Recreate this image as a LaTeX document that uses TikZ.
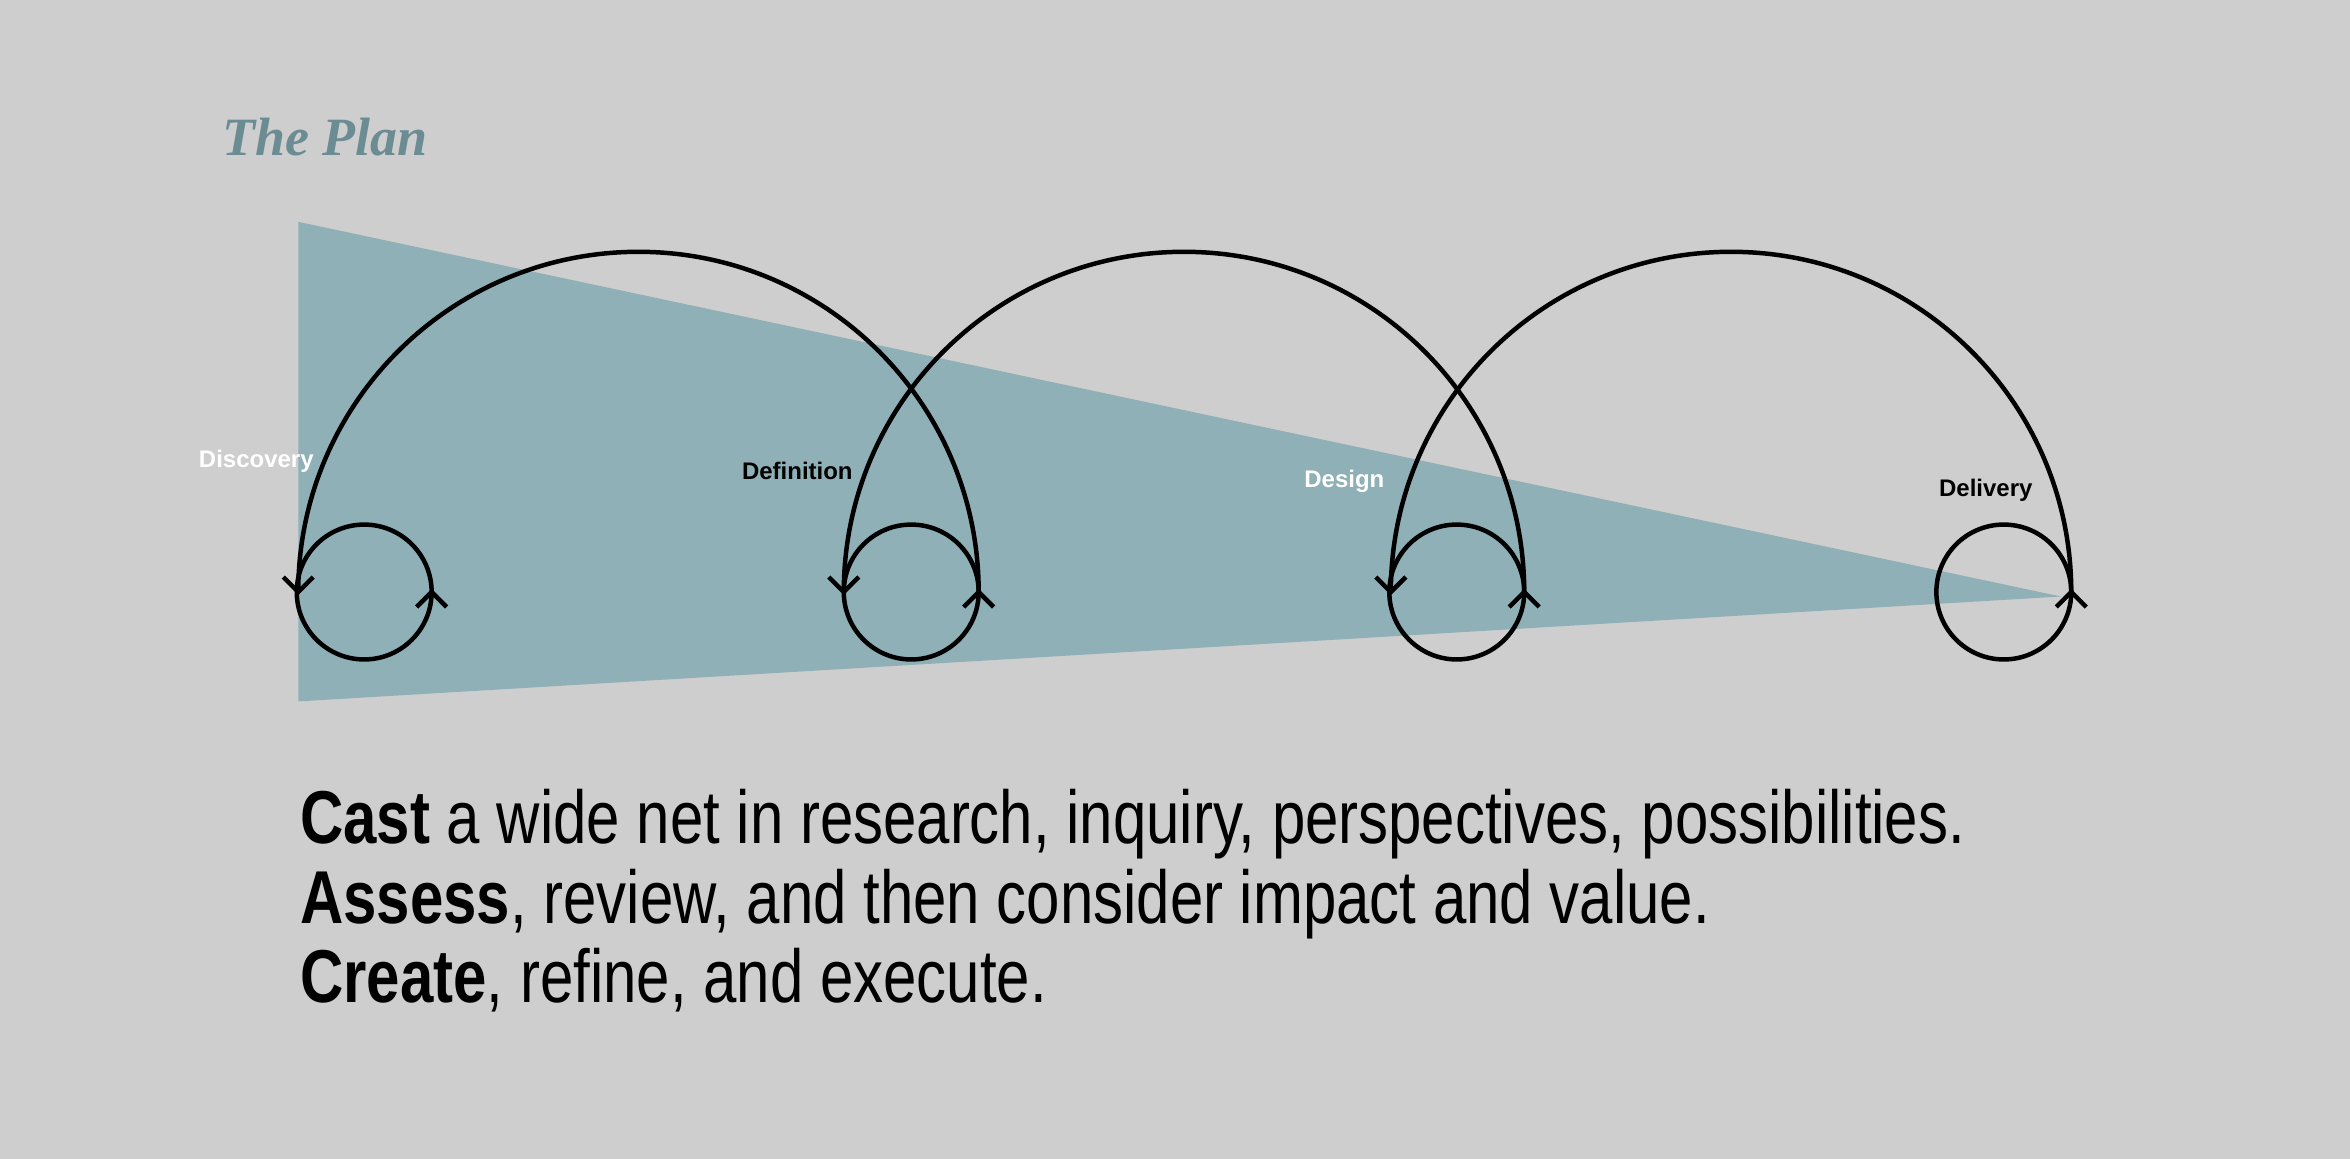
\documentclass[tikz,border=0pt]{standalone}
\usepackage{fontspec}
\setmainfont{Liberation Sans}
\newfontfamily\bodyfont[FakeStretch=0.8]{Liberation Sans}
\newfontfamily\titlefont{Liberation Serif}
\definecolor{bg}{HTML}{CECECE}
\definecolor{tri}{HTML}{8FB0B6}
\definecolor{ttl}{HTML}{6B8C93}
\begin{document}
\begin{tikzpicture}[x=0.5pt,y=-0.5pt,
  loop/.style={line width=1.5pt,black},
  chev/.style={line width=1.5pt,black,line cap=butt},
  lbl/.style={font=\fontsize{8}{10}\selectfont\bfseries,inner sep=0pt},
  body/.style={font=\bodyfont\fontsize{25}{27}\selectfont,anchor=base west,inner sep=0pt}]
\fill[bg] (0,0) rectangle (1568,773);
\useasboundingbox (0,0) rectangle (1568,773);
\node[anchor=base west,inner sep=0pt,text=ttl,font=\titlefont\fontsize{18}{20}\selectfont\bfseries\itshape] (title) at (148,104) {The Plan};
\fill[tri] (199,148) -- (1375,398) -- (199,468) -- cycle;
\foreach \c/\n in {426/a,790/b,1155/c}{
  \draw[loop] (\c+227,395) arc[start angle=0,end angle=-180,radius=227];
  \draw[chev] (\c-237,385) -- (\c-227,395) -- (\c-217,385);
}
\foreach \c/\n in {243/a,608/b,972/c,1337/d}{
  \draw[loop] (\c,395) circle[radius=45];
  \draw[chev] (\c+35,405) -- (\c+45,395) -- (\c+55,405);
}
\node[lbl,text=white] (l1) at (171,308) {Discovery};
\node[lbl,text=black] (l2) at (532,314) {Definition};
\node[lbl,text=white] (l3) at (897,321) {Design};
\node[lbl,text=black] (l4) at (1325,327) {Delivery};
\node[body] (t1) at (200,563) {\textbf{Cast} a wide net in research, inquiry, perspectives, possibilities.};
\node[body] (t2) at (200,616) {\textbf{Assess}, review, and then consider impact and value.};
\node[body] (t3) at (200,669) {\textbf{Create}, refine, and execute.};
\end{tikzpicture}
\end{document}
